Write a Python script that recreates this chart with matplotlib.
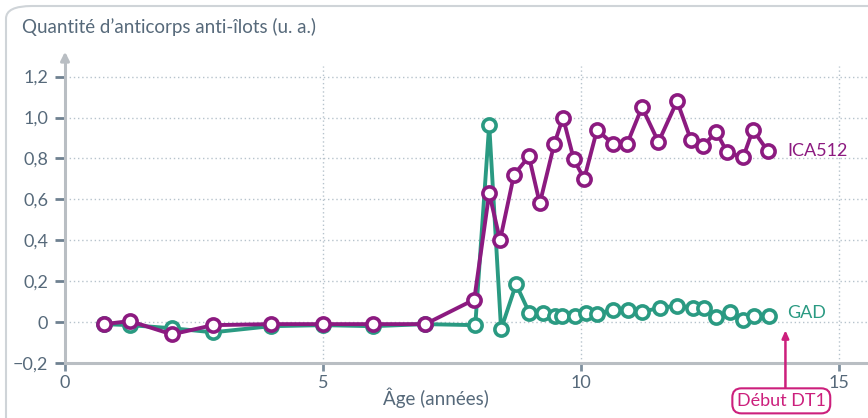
import matplotlib
matplotlib.use("Agg")
import matplotlib.pyplot as plt
from matplotlib.patches import FancyBboxPatch

# ================================================================================
# data (age in years, antibody level in arbitrary units)
ica_age = [0.76, 1.26, 2.07, 2.87, 3.99, 5.0, 5.97, 6.98, 7.93, 8.22, 8.43, 8.7,
           8.99, 9.2, 9.48, 9.65, 9.86, 10.06, 10.31, 10.62, 10.89, 11.18, 11.5,
           11.86, 12.13, 12.36, 12.62, 12.83, 13.14, 13.33, 13.62]
ica_val = [-0.01, 0.005, -0.06, -0.015, -0.01, -0.01, -0.01, -0.01, 0.11, 0.63,
           0.40, 0.72, 0.81, 0.58, 0.87, 1.0, 0.795, 0.70, 0.94, 0.87, 0.87, 1.05,
           0.88, 1.08, 0.89, 0.86, 0.93, 0.83, 0.805, 0.94, 0.835]

gad_age = [0.76, 1.26, 2.07, 2.87, 3.99, 5.0, 5.97, 6.98, 7.95, 8.22, 8.45, 8.74,
           9.0, 9.26, 9.5, 9.63, 9.88, 10.1, 10.31, 10.62, 10.91, 11.18, 11.53,
           11.86, 12.17, 12.39, 12.62, 12.89, 13.14, 13.35, 13.64]
gad_val = [-0.01, -0.015, -0.03, -0.05, -0.02, -0.015, -0.02, -0.01, -0.015, 0.965,
           -0.035, 0.185, 0.044, 0.044, 0.03, 0.03, 0.03, 0.044, 0.04, 0.06, 0.06,
           0.05, 0.07, 0.08, 0.07, 0.07, 0.025, 0.05, 0.01, 0.03, 0.03]

y_ticks = [-0.2, 0, 0.2, 0.4, 0.6, 0.8, 1.0, 1.2]
x_ticks = [0, 5, 10, 15]
onset_age = 13.96

# ================================================================================
plt.rcParams['font.family'] = ['Lato', 'DejaVu Sans']
txt_c = "#56697a"
axis_c = "#b9bec3"
grid_c = "#b7c3cc"
purple = "#8c1a80"
green = "#2a9a82"
magenta = "#cc1f7c"

fig = plt.figure(figsize=(8.68, 4.18), dpi=100)
frame = FancyBboxPatch((6 / 868, -0.2), 1.2, 1.2 - 6 / 418,
                       boxstyle="round,pad=0,rounding_size=0.03",
                       transform=fig.transFigure, fc="white",
                       ec="#cfd4d8", lw=1.5, zorder=-5)
fig.patches.append(frame)
ax = fig.add_axes([65 / 868, 55 / 418, 803 / 868, 313 / 418])
ax.set_xlim(0, 15.56)
ax.set_ylim(-0.2, 1.33)
ax.patch.set_alpha(0)

for s in ["top", "right"]:
    ax.spines[s].set_visible(False)
for s in ["left", "bottom"]:
    ax.spines[s].set_color(axis_c)
    ax.spines[s].set_linewidth(2.2)
ax.spines["left"].set_bounds(-0.2, 1.3)
ax.annotate("", xy=(0, 1.335), xytext=(0, 1.27), xycoords="data",
            arrowprops=dict(arrowstyle="-|>,head_width=0.25,head_length=0.5",
                            color=axis_c, lw=2.2), annotation_clip=False)

# dotted grid
for y in y_ticks[1:]:
    ax.axhline(y, color=grid_c, lw=1, ls=(0, (1, 2)), zorder=1)
for x in x_ticks[1:]:
    ax.plot([x, x], [-0.2, 1.25], color=grid_c, lw=1, ls=(0, (1, 2)), zorder=1)

ax.set_yticks(y_ticks)
ax.set_yticklabels([("\u2212" if v < 0 else "") + (f"{abs(v):.1f}".replace(".", ",") if v != 0 else "0")
                    for v in y_ticks])
ax.set_xticks(x_ticks)
ax.set_xticklabels([str(v) for v in x_ticks])
ax.tick_params(axis="y", colors=txt_c, width=2, length=7, labelsize=13, pad=5)
ax.tick_params(axis="x", colors=txt_c, width=2, length=6, labelsize=13, pad=3)
ax.tick_params(axis="x", color="#7d8f9e")
ax.tick_params(axis="y", color="#6f8191")

# series
ax.plot(gad_age, gad_val, color=green, lw=2.8, marker="o", ms=9.5, mfc="white",
        mec=green, mew=2.6, zorder=3, clip_on=False)
ax.plot(ica_age, ica_val, color=purple, lw=2.8, marker="o", ms=9.5, mfc="white",
        mec=purple, mew=2.6, zorder=4, clip_on=False)

ax.text(14.0, ica_val[-1], "ICA512", color=purple, fontsize=13, va="center", ha="left")
ax.text(14.0, gad_val[-1] + 0.015, "GAD", color=green, fontsize=13, va="center", ha="left")

# onset of type 1 diabetes
ax.annotate("", xy=(onset_age, -0.04), xytext=(onset_age, -0.32),
            arrowprops=dict(arrowstyle="-|>,head_width=0.2,head_length=0.45",
                            color=magenta, lw=1.8, shrinkA=0, shrinkB=0),
            annotation_clip=False, zorder=5)
ax.text(13.88, -0.385, "Début DT1", color=magenta, fontsize=13, ha="center",
        va="center", clip_on=False, zorder=6,
        bbox=dict(boxstyle="round,pad=0.25,rounding_size=0.5", fc="white",
                  ec=magenta, lw=1.5))

fig.text(383 / 868, 1 - 398 / 418, "Âge (années)", color=txt_c, fontsize=13.5,
         ha="left", va="center")
fig.text(22 / 868, 1 - 27 / 418, "Quantité d\u2019anticorps anti-îlots (u. a.)",
         color=txt_c, fontsize=13.5, ha="left", va="center")

fig.savefig("out.png", dpi=100)
